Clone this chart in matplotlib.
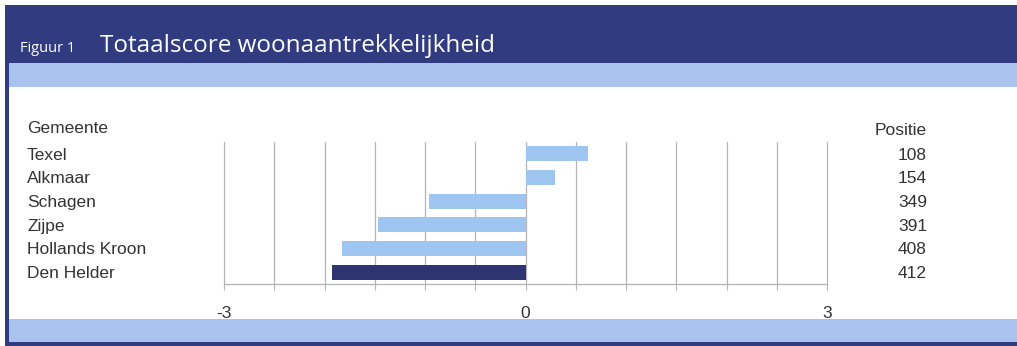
import matplotlib.pyplot as plt
from matplotlib.patches import Rectangle
from matplotlib.transforms import blended_transform_factory

gemeenten = ['Texel', 'Alkmaar', 'Schagen', 'Zijpe', 'Hollands Kroon', 'Den Helder']
scores = [0.62, 0.29, -0.96, -1.47, -1.83, -1.93]
posities = [108, 154, 349, 391, 408, 412]
highlight = 'Den Helder'

navy = '#303b80'
band = '#a8c3ee'
bar_light = '#9fc6f0'
bar_dark = '#2c3572'
text_col = '#333333'
grid_col = '#b4b4b8'

plt.rcParams['font.family'] = ['Liberation Sans', 'DejaVu Sans']

fig = plt.figure(figsize=(10.17, 3.46), dpi=100)
W, H = 1017, 346


def box(x0, y0, x1, y1, color):
    # rectangle in pixel coords from the top-left corner
    fig.patches.append(Rectangle((x0 / W, 1 - y1 / H), (x1 - x0) / W, (y1 - y0) / H,
                                 transform=fig.transFigure, facecolor=color,
                                 edgecolor='none', zorder=0))


box(5, 5, W, 63, navy)
box(5, 63, W, 87, band)
box(5, 319, W, 342, band)
box(5, 342, W, 346, navy)
box(5, 5, 9, 346, navy)

fig.text(20 / W, 1 - 52 / H, 'Figuur 1', color='white', fontsize=10.5,
         family=['Open Sans', 'DejaVu Sans'], va='baseline')
fig.text(100 / W, 1 - 52 / H, 'Totaalscore woonaantrekkelijkheid', color='white',
         fontsize=17.5, family=['Open Sans', 'DejaVu Sans'], va='baseline')

ax = fig.add_axes([224 / W, 1 - 284 / H, 603 / W, 142 / H])
ypos = list(range(len(gemeenten)))
colors = [bar_dark if g == highlight else bar_light for g in gemeenten]
ax.barh(ypos, scores, height=0.64, color=colors, zorder=3)
ax.set_ylim(len(gemeenten) - 0.5, -0.5)
ax.set_xlim(-3, 3)

grid_x = [i / 2 for i in range(-6, 7)]
for gx in grid_x:
    ax.axvline(gx, color=grid_col, lw=0.9, zorder=1, clip_on=False)

ax.set_xticks(grid_x)
ax.set_xticklabels(['-3' if v == -3 else '0' if v == 0 else '3' if v == 3 else '' for v in grid_x],
                   fontsize=12.5, color=text_col)
ax.tick_params(axis='x', length=4, color=grid_col, pad=12)
ax.set_yticks([])
for s in ['top', 'left', 'right']:
    ax.spines[s].set_visible(False)
ax.spines['bottom'].set_color(grid_col)
ax.spines['bottom'].set_linewidth(0.9)

trans = blended_transform_factory(fig.transFigure, ax.transData)
for i, (g, p) in enumerate(zip(gemeenten, posities)):
    ax.text(27 / W, i + 0.05, g, transform=trans, ha='left', va='center',
            fontsize=12.5, color=text_col)
    ax.text(927 / W, i + 0.05, str(p), transform=trans, ha='right', va='center',
            fontsize=12.5, color=text_col)
ax.text(27 / W, -1.05, 'Gemeente', transform=trans, ha='left', va='center',
        fontsize=12.5, color=text_col)
ax.text(927 / W, -1.0, 'Positie', transform=trans, ha='right', va='center',
        fontsize=12.5, color=text_col)

fig.savefig('out.png', dpi=100, facecolor='white')
